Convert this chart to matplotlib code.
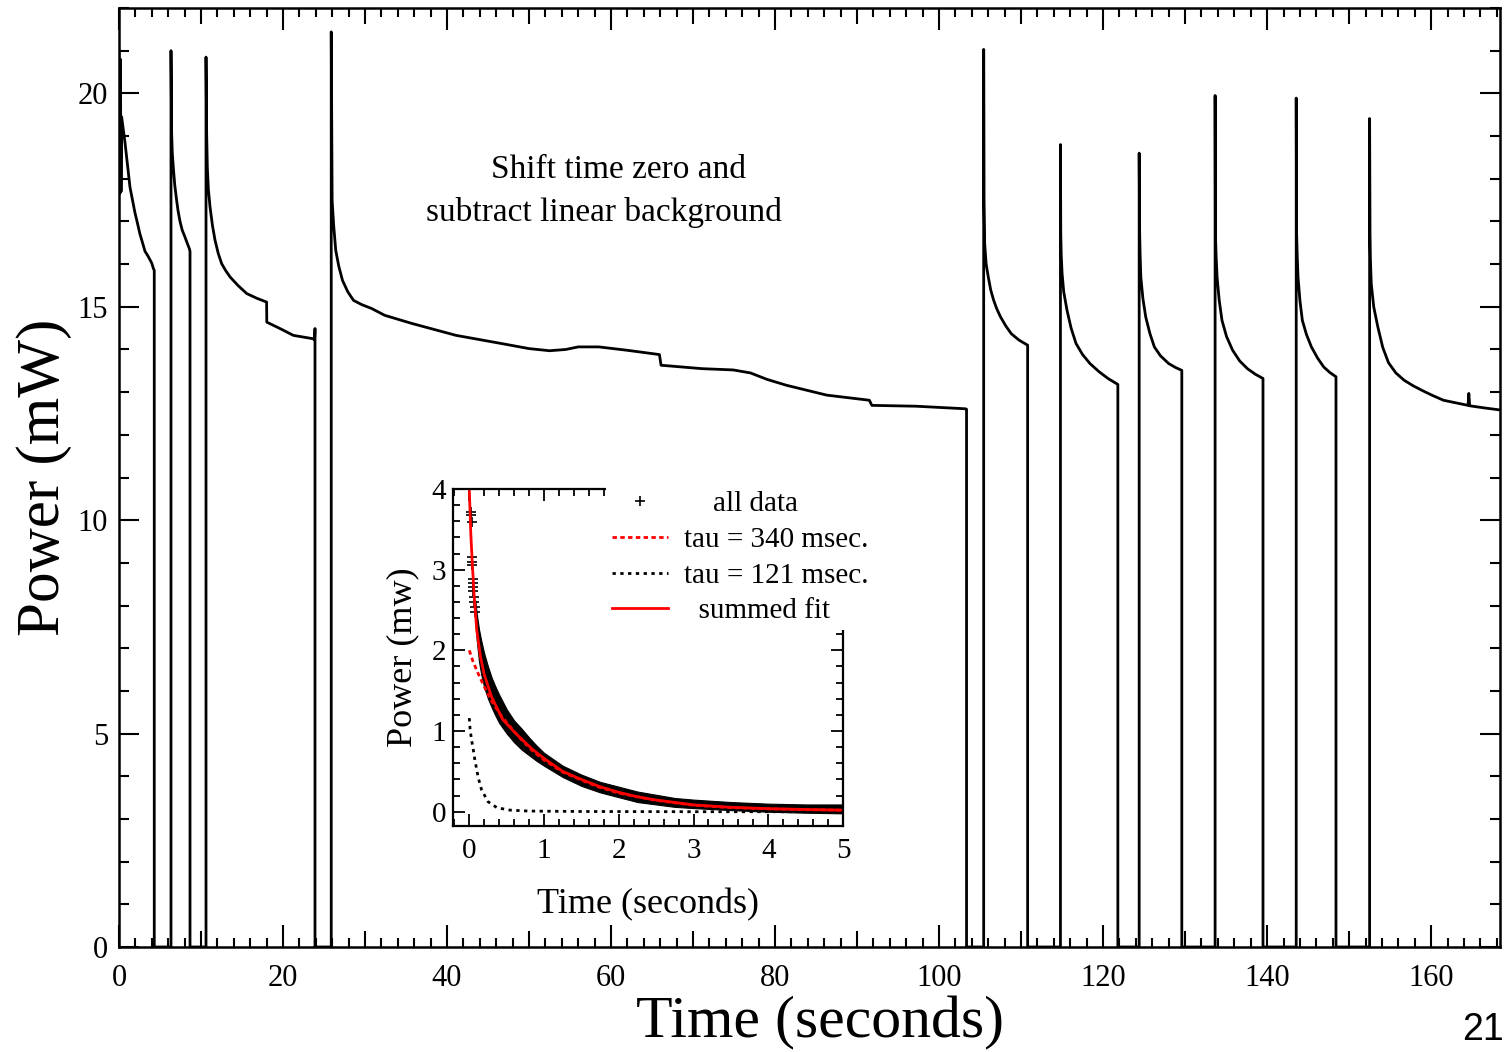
import matplotlib
matplotlib.use('Agg')
import matplotlib.pyplot as plt
from matplotlib.ticker import MultipleLocator

plt.rcParams['font.family'] = ['Liberation Serif', 'DejaVu Serif']

# main trace: time (s), power (mW)
# first three pulses (0 - 24 s)
t_early = [0.0, 0.1, 0.17, 0.25, 0.32, 0.73, 1.34, 1.95, 2.2, 2.56, 2.9, 3.17, 3.5, 3.78, 4.0, 4.19, 4.3, 4.3,
           6.34, 6.34, 6.42, 6.5, 6.62, 6.8, 7.03, 7.2, 7.44, 7.7, 8.05, 8.3, 8.58, 8.66, 8.66,
           10.61, 10.61, 10.69, 10.77, 10.9, 11.1, 11.4, 11.71, 12.1, 12.52, 13.0, 13.54, 14.5,
           15.57, 16.8, 18.0, 18.02, 19.63, 21.26, 23.7, 23.85, 23.9, 23.9]
p_early = [21.0, 17.65, 20.8, 17.7, 19.45, 18.85, 17.8, 17.2, 17.0, 16.7, 16.48, 16.3, 16.2, 16.1, 16.02, 15.9, 15.85, 0.0,
           0.0, 21.0, 19.06, 18.6, 18.27, 17.85, 17.49, 17.25, 17.0, 16.8, 16.63, 16.5, 16.36, 16.3, 0.0,
           0.0, 20.85, 19.06, 18.27, 17.75, 17.34, 16.9, 16.56, 16.25, 16.01, 15.85, 15.7, 15.5,
           15.31, 15.2, 15.11, 14.64, 14.49, 14.33, 14.25, 14.22, 14.49, 0.0]

# long pulse (24 - 103 s)
t_long = [23.9, 25.88, 25.88, 25.99, 26.18, 26.43, 26.8, 27.25, 27.9, 28.6, 29.6, 30.8, 32.4, 35.7, 41.1, 46.6,
          50.0, 52.5, 54.5, 56.0, 58.5, 62.0, 65.9, 66.1, 71.1, 74.9, 77.0, 79.0, 81.4,
          86.3, 91.5, 91.8, 97.2, 103.2, 103.35, 103.35]
p_long = [0.0, 0.0, 21.44, 17.49, 16.9, 16.32, 15.95, 15.62, 15.35, 15.15, 15.05, 14.96, 14.8, 14.61, 14.33, 14.14,
          14.02, 13.97, 14.0, 14.06, 14.06, 13.98, 13.88, 13.63, 13.55, 13.52, 13.45, 13.3, 13.16,
          12.93, 12.81, 12.69, 12.67, 12.61, 12.6, 0.0]

# last six pulses (103 - 168 s)
t_late = [103.35, 105.44, 105.44, 105.48, 105.56, 105.74, 106.0, 106.29, 106.66, 107.04, 107.5, 108.14,
          108.8, 109.74, 110.8, 110.8,
          114.8, 114.8, 114.84, 114.9, 115.0, 115.2, 115.6, 116.1, 116.7, 117.5, 118.4, 119.5, 120.6,
          121.8, 121.8,
          124.4, 124.4, 124.46, 124.52, 124.6, 124.85, 125.2, 125.7, 126.25, 127.0, 128.0, 128.8,
          129.6, 129.6,
          133.66, 133.66, 133.7, 133.78, 133.9, 134.16, 134.5, 135.06, 135.8, 136.66, 137.6, 138.56,
          139.5, 139.5,
          143.55, 143.55, 143.6, 143.67, 143.77, 144.0, 144.3, 144.8, 145.4, 146.15, 146.9, 147.65,
          148.4, 148.4,
          152.5, 152.5, 152.55, 152.6, 152.7, 153.0, 153.5, 154.1, 154.8, 155.7, 156.7, 157.8,
          158.9, 160.2, 161.5, 163.0, 164.5, 164.6, 164.7, 166.5, 168.5]
p_late = [0.0, 0.0, 21.03, 17.49, 16.48, 16.0, 15.7, 15.4, 15.15, 14.95, 14.76, 14.55,
          14.37, 14.22, 14.1, 0.0,
          0.0, 18.8, 16.71, 16.2, 15.78, 15.35, 14.92, 14.5, 14.14, 13.88, 13.67, 13.48, 13.32,
          13.18, 0.0,
          0.0, 18.6, 16.71, 16.2, 15.7, 15.2, 14.76, 14.38, 14.06, 13.85, 13.67, 13.58,
          13.51, 0.0,
          0.0, 19.95, 16.71, 16.2, 15.7, 15.15, 14.68, 14.3, 13.98, 13.73, 13.55, 13.42,
          13.32, 0.0,
          0.0, 19.89, 16.71, 16.2, 15.7, 15.15, 14.68, 14.35, 14.06, 13.8, 13.59, 13.46,
          13.36, 0.0,
          0.0, 19.41, 16.71, 16.1, 15.54, 15.0, 14.53, 14.05, 13.69, 13.45, 13.28, 13.15,
          13.04, 12.92, 12.81, 12.75, 12.69, 12.97, 12.68, 12.63, 12.58]

# inset: one shifted pulse (s, mW)
t_pts = [0.02, 0.025, 0.03, 0.035, 0.04, 0.042, 0.045, 0.05, 0.052, 0.055, 0.06, 0.065, 0.07, 0.075]
p_pts = [3.72, 3.68, 3.59, 3.16, 3.10, 3.06, 2.89, 2.83, 2.79, 2.73, 2.66, 2.60, 2.54, 2.48]

t_band = [0.08, 0.10, 0.13, 0.16, 0.20, 0.25, 0.30, 0.35, 0.40, 0.50, 0.60, 0.70, 0.80, 0.90,
          1.00, 1.25, 1.50, 1.75, 2.00, 2.25, 2.50, 2.75, 3.00, 3.50, 4.00, 4.50, 4.98]
p_band_hi = [2.62, 2.45, 2.26, 2.12, 1.96, 1.80, 1.66, 1.55, 1.45, 1.27, 1.13, 1.03, 0.92, 0.82,
             0.73, 0.57, 0.46, 0.37, 0.31, 0.25, 0.21, 0.17, 0.15, 0.12, 0.10, 0.09, 0.09]
p_band_lo = [2.36, 2.12, 1.86, 1.70, 1.54, 1.40, 1.29, 1.19, 1.10, 0.97, 0.86, 0.77, 0.70, 0.63,
             0.57, 0.43, 0.32, 0.24, 0.18, 0.12, 0.09, 0.06, 0.045, 0.02, 0.0, -0.012, -0.02]

t_sum = [0.0, 0.02, 0.04, 0.065, 0.10, 0.15, 0.20, 0.30, 0.45, 0.60, 0.70, 0.85, 1.0, 1.25,
         1.5, 1.75, 2.0, 2.25, 2.5, 3.0, 3.5, 4.0, 4.5, 5.0]
p_sum = [4.0, 3.45, 3.08, 2.68, 2.25, 1.92, 1.70, 1.42, 1.14, 0.99, 0.90, 0.77, 0.66, 0.50,
         0.40, 0.31, 0.24, 0.185, 0.145, 0.085, 0.055, 0.038, 0.028, 0.02]

t_slow = [0.0, 0.05, 0.12, 0.19, 0.28, 0.41, 0.55, 0.7, 0.85, 1.0, 1.25, 1.5, 1.75, 2.0,
          2.5, 3.0, 3.5, 4.0, 4.5, 5.0]
p_slow = [2.0, 1.86, 1.71, 1.57, 1.40, 1.21, 1.05, 0.89, 0.75, 0.64, 0.49, 0.39, 0.30, 0.23,
          0.14, 0.08, 0.05, 0.035, 0.025, 0.018]

t_fast = [0.0, 0.01, 0.03, 0.055, 0.075, 0.10, 0.12, 0.165, 0.25, 0.37, 0.54, 0.8, 1.5, 3.0, 5.0]
p_fast = [1.16, 1.03, 0.89, 0.76, 0.64, 0.52, 0.42, 0.27, 0.125, 0.05, 0.02, 0.008, 0.003, 0.0, 0.0]

fig = plt.figure(figsize=(15.1, 10.52), dpi=100)

# ---- main panel
ax = fig.add_axes([119 / 1510, 1 - 947 / 1052, 1381 / 1510, 939 / 1052])
for t, p in [(t_early, p_early), (t_long, p_long), (t_late, p_late)]:
    ax.plot(t, p, color='k', lw=2.0)

ax.set_xlim(0, 168.4)
ax.set_ylim(0, 22)
ax.xaxis.set_major_locator(MultipleLocator(20))
ax.xaxis.set_minor_locator(MultipleLocator(2))
ax.yaxis.set_major_locator(MultipleLocator(5))
ax.yaxis.set_minor_locator(MultipleLocator(1))
ax.tick_params(which='both', direction='in', top=True, right=True, width=1.5, labelsize=22)
ax.tick_params(axis='x', which='major', length=16, pad=12)
ax.tick_params(axis='x', which='minor', length=6.5)
ax.tick_params(axis='y', which='major', length=14.5, pad=8)
ax.tick_params(axis='y', which='minor', length=7)
for s in ax.spines.values():
    s.set_linewidth(1.8)

# medium ticks every 10 s
for tk, loc in zip(ax.xaxis.get_minor_ticks(), ax.xaxis.get_minorticklocs()):
    if abs(loc / 10 - round(loc / 10)) < 1e-6:
        tk.tick1line.set_markersize(11.5)
        tk.tick2line.set_markersize(11.5)

ax.set_xlabel('Time (seconds)', fontsize=43)
ax.xaxis.set_label_coords(0.5076, -0.052)
ax.set_ylabel('Power (mW)', fontsize=44, labelpad=4)

ax.text(60.85, 18.22, 'Shift time zero and', ha='center', va='center', fontsize=24)
ax.text(59.1, 17.2, 'subtract linear background', ha='center', va='center', fontsize=24)

# ---- inset
axi = fig.add_axes([453 / 1510, 1 - 826 / 1052, 390 / 1510, 337 / 1052])
axi.fill_between(t_band, p_band_lo, p_band_hi, color='k', lw=0.8)
h_data, = axi.plot(t_pts, p_pts, ls='none', marker='+', ms=7, mew=1.2, color='k')
h_fast, = axi.plot(t_fast, p_fast, color='k', lw=2, ls=(0, (1.2, 1.6)))
h_slow, = axi.plot(t_slow, p_slow, color='red', lw=2, ls=(0, (1.6, 1.2)))
h_sum, = axi.plot(t_sum, p_sum, color='red', lw=2)

axi.set_xlim(-0.218, 5.0)
axi.set_ylim(-0.177, 4.0)
axi.xaxis.set_major_locator(MultipleLocator(1))
axi.xaxis.set_minor_locator(MultipleLocator(0.2))
axi.yaxis.set_major_locator(MultipleLocator(1))
axi.yaxis.set_minor_locator(MultipleLocator(0.2))
axi.tick_params(which='both', direction='in', top=True, right=True, width=1.3, labelsize=21)
axi.tick_params(which='major', length=8.5)
axi.tick_params(which='minor', length=5)
axi.tick_params(axis='x', pad=9)
axi.tick_params(axis='y', pad=5)
for s in axi.spines.values():
    s.set_linewidth(1.6)
axi.set_xlabel('Time (seconds)', fontsize=26, labelpad=17)
axi.set_ylabel('Power (mw)', fontsize=26, labelpad=9)

leg = axi.legend([h_data, h_slow, h_fast, h_sum],
                 ['    all data', 'tau = 340 msec.', 'tau = 121 msec.', '  summed fit'],
                 loc='upper left', bbox_to_anchor=(606 / 1510, 1 - 485 / 1052),
                 bbox_transform=fig.transFigure, frameon=True, fancybox=False,
                 edgecolor='white', facecolor='white', framealpha=1, fontsize=21,
                 handlelength=1.93, handletextpad=0.55, labelspacing=0.32,
                 borderpad=0.2, borderaxespad=0, numpoints=1)
leg.get_frame().set_linewidth(0)

fig.text(1483 / 1510, 1 - 1030 / 1052, '21', fontsize=27, family='Liberation Sans',
         ha='center', va='center')

fig.savefig('out.png', dpi=100)
